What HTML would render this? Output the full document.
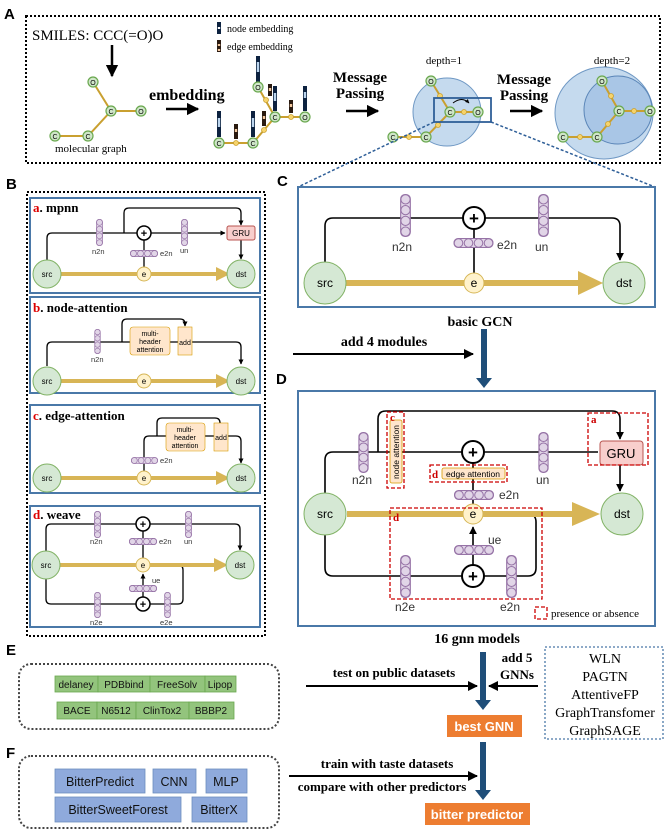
<!DOCTYPE html>
<html><head><meta charset="utf-8"><style>
html,body{margin:0;padding:0;background:#fff;}
svg{display:block;}
.s{font-family:"Liberation Sans",sans-serif;}
.r{font-family:"Liberation Serif",serif;}
</style></head><body>
<svg width="668" height="832" viewBox="0 0 668 832" xmlns="http://www.w3.org/2000/svg">
<defs>
<symbol id="vb" viewBox="0 0 10 40"><rect x="0.5" y="0.5" width="9" height="39" rx="4" fill="#e1d5e7" stroke="#9673a6"/><circle cx="5" cy="5" r="4.3" fill="#e1d5e7" stroke="#9673a6"/><circle cx="5" cy="15" r="4.3" fill="#e1d5e7" stroke="#9673a6"/><circle cx="5" cy="25" r="4.3" fill="#e1d5e7" stroke="#9673a6"/><circle cx="5" cy="35" r="4.3" fill="#e1d5e7" stroke="#9673a6"/></symbol>
<symbol id="hb" viewBox="0 0 40 10"><rect x="0.5" y="0.5" width="39" height="9" rx="4" fill="#e1d5e7" stroke="#9673a6"/><circle cx="5" cy="5" r="4.3" fill="#e1d5e7" stroke="#9673a6"/><circle cx="15" cy="5" r="4.3" fill="#e1d5e7" stroke="#9673a6"/><circle cx="25" cy="5" r="4.3" fill="#e1d5e7" stroke="#9673a6"/><circle cx="35" cy="5" r="4.3" fill="#e1d5e7" stroke="#9673a6"/></symbol>
<marker id="ah" viewBox="0 0 10 10" refX="9" refY="5" markerWidth="5" markerHeight="5" orient="auto"><path d="M0,0 L10,5 L0,10 z" fill="#000"/></marker>
<marker id="ahs" viewBox="0 0 10 10" refX="9" refY="5" markerWidth="4" markerHeight="4" orient="auto"><path d="M0,0 L10,5 L0,10 z" fill="#000"/></marker>
</defs>

<!-- ===== A ===== -->
<text x="4" y="19" class="s" font-size="15" font-weight="bold">A</text>
<rect x="26" y="16" width="634" height="147" fill="none" stroke="#000" stroke-width="2" stroke-dasharray="2,2"/>
<text x="32" y="40" class="r" font-size="15">SMILES: CCC(=O)O</text>
<line x1="112" y1="45" x2="112" y2="76" stroke="#000" stroke-width="2.5" marker-end="url(#ah)"/>
<g stroke="#c9a030" stroke-width="2" fill="none">
<polyline points="93,82 111,111 141,111"/><polyline points="111,111 88,136 55,136"/>
</g>
<g fill="#cfe6c8" stroke="#6aa84f" stroke-width="1.2" class="s" font-size="8">
<circle cx="93" cy="82" r="5"/><circle cx="111" cy="111" r="5"/><circle cx="141" cy="111" r="5"/><circle cx="88" cy="136" r="5"/><circle cx="55" cy="136" r="5"/>
</g>
<g class="s" font-size="7" text-anchor="middle"><text x="93" y="85">O</text><text x="111" y="114">C</text><text x="141" y="114">O</text><text x="88" y="139">C</text><text x="55" y="139">C</text></g>
<text x="55" y="152" class="r" font-size="11">molecular graph</text>
<text x="149" y="100" class="r" font-size="16" font-weight="bold">embedding</text>
<line x1="166" y1="109" x2="198" y2="109" stroke="#000" stroke-width="2.5" marker-end="url(#ah)"/>
<!-- legend -->
<rect x="217" y="22" width="4" height="12" fill="#0d2240"/><rect x="217.8" y="27" width="2.4" height="2" fill="#fff"/>
<text x="227" y="32" class="r" font-size="10">node embedding</text>
<rect x="217" y="40" width="4" height="12" fill="#2a1a10"/><rect x="217.8" y="44" width="2.4" height="2" fill="#f3c9a0"/><rect x="217.8" y="49" width="2.4" height="2" fill="#f3c9a0"/>
<text x="227" y="50" class="r" font-size="10">edge embedding</text>
<!-- embedded graph -->
<g stroke="#c9a030" stroke-width="2" fill="none"><polyline points="219,143 253,143 275,117 305,117"/><line x1="275" y1="117" x2="258" y2="87"/></g>
<g fill="#f6d36b" stroke="#c9a030" stroke-width="0.8"><circle cx="236" cy="143" r="2.5"/><circle cx="264" cy="130" r="2.5"/><circle cx="266" cy="100" r="2.5"/><circle cx="291" cy="117" r="2.5"/></g>
<g fill="#0d2240">
<rect x="217" y="111" width="4" height="26"/><rect x="251" y="111" width="4" height="26"/><rect x="273" y="86" width="4" height="25"/><rect x="256" y="56" width="4" height="26"/><rect x="303" y="86" width="4" height="25"/>
</g>
<g fill="#bcd5ee"><rect x="217.8" y="118" width="2.4" height="9"/><rect x="251.8" y="118" width="2.4" height="9"/><rect x="273.8" y="93" width="2.4" height="8"/><rect x="256.8" y="62" width="2.4" height="10"/><rect x="303.8" y="92" width="2.4" height="6"/></g>
<g fill="#2a1a10"><rect x="234" y="124" width="4" height="15"/><rect x="262" y="111" width="4" height="15"/><rect x="268" y="84" width="4" height="12"/><rect x="289" y="100" width="4" height="13"/></g>
<g fill="#f3c9a0"><rect x="234.8" y="129" width="2.4" height="3"/><rect x="262.8" y="116" width="2.4" height="3"/><rect x="268.8" y="88" width="2.4" height="3"/><rect x="289.8" y="104" width="2.4" height="3"/></g>
<g fill="#cfe6c8" stroke="#6aa84f" stroke-width="1.2"><circle cx="219" cy="143" r="5"/><circle cx="253" cy="143" r="5"/><circle cx="275" cy="117" r="5"/><circle cx="258" cy="87" r="5"/><circle cx="305" cy="117" r="5"/></g>
<g class="s" font-size="7" text-anchor="middle"><text x="219" y="146">C</text><text x="253" y="146">C</text><text x="275" y="120">C</text><text x="258" y="90">O</text><text x="305" y="120">O</text></g>
<!-- message passing 1 -->
<text x="360" y="82" class="r" font-size="15" font-weight="bold" text-anchor="middle">Message</text>
<text x="360" y="98" class="r" font-size="15" font-weight="bold" text-anchor="middle">Passing</text>
<line x1="346" y1="111" x2="378" y2="111" stroke="#000" stroke-width="2.5" marker-end="url(#ah)"/>
<text x="444" y="64" class="r" font-size="11" text-anchor="middle">depth=1</text>
<circle cx="447" cy="112" r="34" fill="#c5daee" stroke="#6f98c4" stroke-width="1"/>
<g stroke="#c9a030" stroke-width="2" fill="none"><polyline points="431,81 450,112 478,112"/><polyline points="450,112 426,137 393,137"/></g>
<g fill="#f6d36b" stroke="#c9a030" stroke-width="0.8"><circle cx="440" cy="96" r="2.5"/><circle cx="464" cy="112" r="2.5"/><circle cx="438" cy="125" r="2.5"/><circle cx="409" cy="137" r="2.5"/></g>
<g fill="#cfe6c8" stroke="#6aa84f" stroke-width="1.2"><circle cx="431" cy="81" r="5"/><circle cx="450" cy="112" r="5"/><circle cx="478" cy="112" r="5"/><circle cx="426" cy="137" r="5"/><circle cx="393" cy="137" r="5"/></g>
<g class="s" font-size="7" text-anchor="middle"><text x="431" y="84">O</text><text x="450" y="115">C</text><text x="478" y="115">O</text><text x="426" y="140">C</text><text x="393" y="140">C</text></g>
<path d="M453,103 Q462,96 469,103" fill="none" stroke="#000" stroke-width="1" marker-end="url(#ahs)"/>
<rect x="434" y="98" width="57" height="24" fill="none" stroke="#2f5f98" stroke-width="1.8"/>
<line x1="434" y1="122" x2="298" y2="187" stroke="#2f5f98" stroke-width="1.5" stroke-dasharray="3,2"/>
<line x1="491" y1="122" x2="655" y2="187" stroke="#2f5f98" stroke-width="1.5" stroke-dasharray="3,2"/>
<!-- message passing 2 -->
<text x="524" y="84" class="r" font-size="15" font-weight="bold" text-anchor="middle">Message</text>
<text x="524" y="100" class="r" font-size="15" font-weight="bold" text-anchor="middle">Passing</text>
<line x1="510" y1="111" x2="542" y2="111" stroke="#000" stroke-width="2.5" marker-end="url(#ah)"/>
<text x="612" y="64" class="r" font-size="11" text-anchor="middle">depth=2</text>
<ellipse cx="604" cy="113" rx="49" ry="46" fill="#c5daee" stroke="#6f98c4"/>
<circle cx="618" cy="110" r="34" fill="#a9c6e6" stroke="#5b86b8"/>
<g stroke="#c9a030" stroke-width="2" fill="none"><polyline points="602,81 619,111 650,111"/><polyline points="619,111 597,137 563,137"/></g>
<g fill="#f6d36b" stroke="#c9a030" stroke-width="0.8"><circle cx="611" cy="96" r="2.5"/><circle cx="634" cy="111" r="2.5"/><circle cx="608" cy="124" r="2.5"/><circle cx="580" cy="137" r="2.5"/></g>
<g fill="#cfe6c8" stroke="#6aa84f" stroke-width="1.2"><circle cx="602" cy="81" r="5"/><circle cx="619" cy="111" r="5"/><circle cx="650" cy="111" r="5"/><circle cx="597" cy="137" r="5"/><circle cx="563" cy="137" r="5"/></g>
<g class="s" font-size="7" text-anchor="middle"><text x="602" y="84">O</text><text x="619" y="114">C</text><text x="650" y="114">O</text><text x="597" y="140">C</text><text x="563" y="140">C</text></g>

<!-- ===== B ===== -->
<text x="6" y="189" class="s" font-size="15" font-weight="bold">B</text>
<rect x="27" y="192" width="238" height="444" fill="none" stroke="#000" stroke-width="2" stroke-dasharray="2,2"/>
<!-- a -->
<rect x="30" y="198" width="230" height="95" fill="#fff" stroke="#4a78a8" stroke-width="2"/>
<text x="33" y="212" class="r" font-size="13" font-weight="bold"><tspan fill="#d00">a</tspan>. mpnn</text>
<path d="M47,260 V238 Q47,233 52,233 H225" fill="none" stroke="#000" stroke-width="1.3" marker-end="url(#ahs)"/>
<path d="M124,233 V213 Q124,208 129,208 H236 Q241,208 241,213 V225" fill="none" stroke="#000" stroke-width="1.3" marker-end="url(#ahs)"/>
<line x1="144" y1="233" x2="144" y2="268" stroke="#000" stroke-width="1.3"/>
<line x1="241" y1="240" x2="241" y2="259" stroke="#000" stroke-width="1.3" marker-end="url(#ahs)"/>
<rect x="227" y="226" width="28" height="14" rx="2" fill="#f8cecc" stroke="#b85450"/><text x="241" y="236" class="s" font-size="8" text-anchor="middle">GRU</text>
<circle cx="144" cy="233" r="7" fill="#fff" stroke="#000" stroke-width="1.5"/><text x="144" y="237" class="s" font-size="11" text-anchor="middle" font-weight="bold">+</text>
<use href="#vb" x="96" y="219" width="7" height="27"/><use href="#vb" x="181" y="219" width="7" height="27"/><use href="#hb" x="130" y="250" width="28" height="7"/>
<g class="s" font-size="7.5" fill="#333"><text x="92" y="254">n2n</text><text x="160" y="256">e2n</text><text x="180" y="253">un</text></g>
<line x1="58" y1="274" x2="220" y2="274" stroke="#d8b556" stroke-width="4"/><path d="M216,267 L230,274 L216,281 z" fill="#d8b556"/>
<circle cx="47" cy="274" r="14" fill="#d5e8d4" stroke="#82b366"/><circle cx="241" cy="274" r="14" fill="#d5e8d4" stroke="#82b366"/><circle cx="144" cy="274" r="7" fill="#fff2cc" stroke="#d6b656"/>
<g class="s" font-size="8" text-anchor="middle"><text x="47" y="277">src</text><text x="241" y="277">dst</text><text x="144" y="277">e</text></g>
<!-- b -->
<rect x="30" y="297" width="230" height="96" fill="#fff" stroke="#4a78a8" stroke-width="2"/>
<text x="33" y="312" class="r" font-size="13" font-weight="bold"><tspan fill="#d00">b</tspan>. node-attention</text>
<path d="M47,366 V347 Q47,342 52,342 H236 Q241,342 241,347 V364" fill="none" stroke="#000" stroke-width="1.3" marker-end="url(#ahs)"/>
<path d="M122,342 V324 Q122,319 127,319 H180 Q185,319 185,324 V326" fill="none" stroke="#000" stroke-width="1.3" marker-end="url(#ahs)"/>
<rect x="130" y="327" width="40" height="28" rx="3" fill="#ffe6cc" stroke="#d79b00" stroke-width="0.6"/>
<text x="150" y="336" class="s" font-size="7" text-anchor="middle">multi-</text><text x="150" y="344" class="s" font-size="7" text-anchor="middle">header</text><text x="150" y="352" class="s" font-size="7" text-anchor="middle">attention</text>
<rect x="178" y="327" width="14" height="28" fill="#ffe6cc" stroke="#d79b00" stroke-width="0.6"/><text x="185" y="345" class="s" font-size="7" text-anchor="middle">add</text>
<use href="#vb" x="94" y="329" width="7" height="25"/><text x="91" y="362" class="s" font-size="7.5" fill="#333">n2n</text>
<line x1="58" y1="381" x2="220" y2="381" stroke="#d8b556" stroke-width="4"/><path d="M216,374 L230,381 L216,388 z" fill="#d8b556"/>
<circle cx="47" cy="381" r="14" fill="#d5e8d4" stroke="#82b366"/><circle cx="241" cy="381" r="14" fill="#d5e8d4" stroke="#82b366"/><circle cx="144" cy="381" r="7" fill="#fff2cc" stroke="#d6b656"/>
<g class="s" font-size="8" text-anchor="middle"><text x="47" y="384">src</text><text x="241" y="384">dst</text><text x="144" y="384">e</text></g>
<!-- c -->
<rect x="30" y="405" width="230" height="88" fill="#fff" stroke="#4a78a8" stroke-width="2"/>
<text x="33" y="420" class="r" font-size="13" font-weight="bold"><tspan fill="#d00">c</tspan>. edge-attention</text>
<path d="M144,472 V441 Q144,436 149,436 H236 Q241,436 241,441 V463" fill="none" stroke="#000" stroke-width="1.3" marker-end="url(#ahs)"/>
<path d="M157,436 V423 Q157,418 162,418 H215 Q220,418 220,423 V422" fill="none" stroke="#000" stroke-width="1.3" marker-end="url(#ahs)"/>
<rect x="166" y="423" width="39" height="28" rx="3" fill="#ffe6cc" stroke="#d79b00" stroke-width="0.6"/>
<text x="185" y="432" class="s" font-size="7" text-anchor="middle">multi-</text><text x="185" y="440" class="s" font-size="7" text-anchor="middle">header</text><text x="185" y="448" class="s" font-size="7" text-anchor="middle">attention</text>
<rect x="214" y="423" width="14" height="28" fill="#ffe6cc" stroke="#d79b00" stroke-width="0.6"/><text x="221" y="440" class="s" font-size="7" text-anchor="middle">add</text>
<use href="#hb" x="131" y="457" width="27" height="7"/><text x="160" y="463" class="s" font-size="7.5" fill="#333">e2n</text>
<line x1="58" y1="478" x2="220" y2="478" stroke="#d8b556" stroke-width="4"/><path d="M216,471 L230,478 L216,485 z" fill="#d8b556"/>
<circle cx="47" cy="478" r="14" fill="#d5e8d4" stroke="#82b366"/><circle cx="241" cy="478" r="14" fill="#d5e8d4" stroke="#82b366"/><circle cx="144" cy="478" r="7" fill="#fff2cc" stroke="#d6b656"/>
<g class="s" font-size="8" text-anchor="middle"><text x="47" y="481">src</text><text x="241" y="481">dst</text><text x="144" y="481">e</text></g>
<!-- d -->
<rect x="30" y="506" width="230" height="121" fill="#fff" stroke="#4a78a8" stroke-width="2"/>
<text x="33" y="519" class="r" font-size="13" font-weight="bold"><tspan fill="#d00">d</tspan>. weave</text>
<path d="M46,551 V529 Q46,524 51,524 H235 Q240,524 240,529 V550" fill="none" stroke="#000" stroke-width="1.3" marker-end="url(#ahs)"/>
<line x1="143" y1="524" x2="143" y2="558" stroke="#000" stroke-width="1.3"/>
<path d="M150,565 H178 Q183,565 183,570 V599 Q183,604 178,604 H51 Q46,604 46,599 V579" fill="none" stroke="#000" stroke-width="1.3"/>
<line x1="143" y1="597" x2="143" y2="574" stroke="#000" stroke-width="1.3" marker-end="url(#ahs)"/>
<circle cx="143" cy="524" r="7" fill="#fff" stroke="#000" stroke-width="1.5"/><text x="143" y="528" class="s" font-size="11" text-anchor="middle" font-weight="bold">+</text>
<circle cx="143" cy="604" r="7" fill="#fff" stroke="#000" stroke-width="1.5"/><text x="143" y="608" class="s" font-size="11" text-anchor="middle" font-weight="bold">+</text>
<use href="#vb" x="94" y="511" width="7" height="27"/><use href="#vb" x="185" y="511" width="7" height="27"/><use href="#hb" x="129" y="538" width="28" height="7"/>
<use href="#hb" x="129" y="585" width="28" height="7"/><use href="#vb" x="94" y="592" width="7" height="26"/><use href="#vb" x="164" y="592" width="7" height="26"/>
<g class="s" font-size="7.5" fill="#333"><text x="90" y="544">n2n</text><text x="159" y="544">e2n</text><text x="184" y="544">un</text><text x="152" y="583">ue</text><text x="90" y="625">n2e</text><text x="160" y="625">e2e</text></g>
<line x1="58" y1="565" x2="218" y2="565" stroke="#d8b556" stroke-width="4"/><path d="M214,558 L228,565 L214,572 z" fill="#d8b556"/>
<circle cx="46" cy="565" r="14" fill="#d5e8d4" stroke="#82b366"/><circle cx="240" cy="565" r="14" fill="#d5e8d4" stroke="#82b366"/><circle cx="143" cy="565" r="7" fill="#fff2cc" stroke="#d6b656"/>
<g class="s" font-size="8" text-anchor="middle"><text x="46" y="568">src</text><text x="240" y="568">dst</text><text x="143" y="568">e</text></g>

<!-- ===== C ===== -->
<text x="277" y="186" class="s" font-size="15" font-weight="bold">C</text>
<rect x="298" y="187" width="357" height="120" fill="#fff" stroke="#4a78a8" stroke-width="2"/>
<path d="M325,262 V226 Q325,218 333,218 H612 Q620,218 620,226 V260" fill="none" stroke="#000" stroke-width="1.6" marker-end="url(#ah)"/>
<line x1="474" y1="218" x2="474" y2="273" stroke="#000" stroke-width="1.6"/>
<circle cx="474" cy="218" r="11" fill="#fff" stroke="#000" stroke-width="2"/><text x="474" y="224" class="s" font-size="17" text-anchor="middle" font-weight="bold">+</text>
<use href="#vb" x="400" y="194" width="11" height="43"/><use href="#vb" x="538" y="194" width="11" height="43"/><use href="#hb" x="453" y="238" width="41" height="10"/>
<g class="s" font-size="12" fill="#333"><text x="392" y="251">n2n</text><text x="497" y="249">e2n</text><text x="535" y="251">un</text></g>
<line x1="345" y1="283" x2="584" y2="283" stroke="#d8b556" stroke-width="6"/><path d="M578,271 L603,283 L578,295 z" fill="#d8b556"/>
<circle cx="325" cy="283" r="21" fill="#d5e8d4" stroke="#82b366"/><circle cx="624" cy="283" r="21" fill="#d5e8d4" stroke="#82b366"/><circle cx="474" cy="283" r="10" fill="#fff2cc" stroke="#d6b656"/>
<g class="s" font-size="12" text-anchor="middle"><text x="325" y="287">src</text><text x="624" y="287">dst</text><text x="474" y="287">e</text></g>
<text x="480" y="326" class="r" font-size="14" font-weight="bold" text-anchor="middle">basic GCN</text>
<text x="384" y="346" class="r" font-size="14" font-weight="bold" text-anchor="middle">add 4 modules</text>
<line x1="293" y1="354" x2="473" y2="354" stroke="#000" stroke-width="2" marker-end="url(#ah)"/>
<rect x="481" y="329" width="6" height="50" fill="#1f4e79"/><path d="M476,378 L492,378 L484,388 z" fill="#1f4e79"/>

<!-- ===== D ===== -->
<text x="276" y="384" class="s" font-size="15" font-weight="bold">D</text>
<rect x="298" y="391" width="357" height="235" fill="#fff" stroke="#4a78a8" stroke-width="2"/>
<path d="M325,493 V460 Q325,452 333,452 H598" fill="none" stroke="#000" stroke-width="1.6"/>
<path d="M378,452 V419 Q378,411 386,411 H612 Q620,411 620,419 V439" fill="none" stroke="#000" stroke-width="1.6" marker-end="url(#ah)"/>
<line x1="620" y1="465" x2="620" y2="491" stroke="#000" stroke-width="1.6" marker-end="url(#ah)"/>
<line x1="473" y1="452" x2="473" y2="504" stroke="#000" stroke-width="1.6"/>
<path d="M483,514 H528 Q536,514 536,522 V568 Q536,576 528,576 H333 Q325,576 325,568 V535" fill="none" stroke="#000" stroke-width="1.6"/>
<line x1="473" y1="565" x2="473" y2="527" stroke="#000" stroke-width="1.6" marker-end="url(#ah)"/>
<rect x="600" y="441" width="43" height="24" rx="3" fill="#f8cecc" stroke="#b85450"/><text x="621" y="458" class="s" font-size="13" text-anchor="middle">GRU</text>
<circle cx="473" cy="452" r="11" fill="#fff" stroke="#000" stroke-width="2"/><text x="473" y="458" class="s" font-size="17" text-anchor="middle" font-weight="bold">+</text>
<circle cx="473" cy="576" r="11" fill="#fff" stroke="#000" stroke-width="2"/><text x="473" y="582" class="s" font-size="17" text-anchor="middle" font-weight="bold">+</text>
<use href="#vb" x="358" y="432" width="11" height="41"/><use href="#vb" x="538" y="432" width="11" height="41"/>
<use href="#hb" x="453" y="490" width="42" height="10"/><use href="#hb" x="453" y="545" width="42" height="10"/>
<use href="#vb" x="400" y="555" width="11" height="43"/><use href="#vb" x="506" y="555" width="11" height="43"/>
<rect x="390" y="420" width="12" height="63" rx="2" fill="#ffe6cc" stroke="#d79b00" stroke-width="0.8"/>
<text transform="translate(399,452) rotate(-90)" class="s" font-size="8.5" text-anchor="middle">node attention</text>
<rect x="442" y="468" width="63" height="11" rx="2" fill="#ffe6cc" stroke="#d79b00" stroke-width="0.8"/>
<text x="473" y="477" class="s" font-size="8.5" text-anchor="middle">edge attention</text>
<g class="s" font-size="12" fill="#333"><text x="352" y="484">n2n</text><text x="536" y="484">un</text><text x="499" y="499">e2n</text><text x="488" y="544">ue</text><text x="395" y="611">n2e</text><text x="500" y="611">e2n</text></g>
<line x1="347" y1="514" x2="575" y2="514" stroke="#d8b556" stroke-width="6"/><path d="M572,502 L600,514 L572,526 z" fill="#d8b556"/>
<circle cx="325" cy="514" r="21" fill="#d5e8d4" stroke="#82b366"/><circle cx="622" cy="514" r="21" fill="#d5e8d4" stroke="#82b366"/><circle cx="473" cy="514" r="10" fill="#fff2cc" stroke="#d6b656"/>
<g class="s" font-size="12" text-anchor="middle"><text x="325" y="518">src</text><text x="622" y="518">dst</text><text x="473" y="518">e</text></g>
<g fill="none" stroke="#c00" stroke-width="1.3" stroke-dasharray="4,2">
<rect x="387" y="412" width="17" height="76"/><rect x="430" y="465" width="77" height="17"/><rect x="588" y="413" width="60" height="52"/><rect x="390" y="508" width="152" height="91"/><rect x="535" y="607" width="12" height="12"/>
</g>
<g class="r" font-size="11" font-weight="bold" fill="#c00"><text x="390" y="421">c</text><text x="432" y="478">d</text><text x="591" y="423">a</text><text x="393" y="521">d</text></g>
<text x="551" y="617" class="r" font-size="11">presence or absence</text>
<text x="477" y="643" class="r" font-size="14" font-weight="bold" text-anchor="middle">16 gnn models</text>

<!-- ===== E ===== -->
<text x="6" y="655" class="s" font-size="15" font-weight="bold">E</text>
<rect x="19" y="664" width="260" height="65" rx="12" fill="none" stroke="#444" stroke-width="2" stroke-dasharray="2,2"/>
<g fill="#93c47d" stroke="#6aa84f" stroke-width="0.8">
<rect x="55" y="676" width="43" height="16"/><rect x="98" y="676" width="52" height="16"/><rect x="150" y="676" width="55" height="16"/><rect x="205" y="676" width="31" height="16"/>
<rect x="57" y="702" width="40" height="17"/><rect x="97" y="702" width="39" height="17"/><rect x="136" y="702" width="53" height="17"/><rect x="189" y="702" width="45" height="17"/>
</g>
<g class="s" font-size="10" text-anchor="middle" fill="#111">
<text x="76" y="688">delaney</text><text x="124" y="688">PDBbind</text><text x="177" y="688">FreeSolv</text><text x="220" y="688">Lipop</text>
<text x="77" y="714">BACE</text><text x="116" y="714">N6512</text><text x="162" y="714">ClinTox2</text><text x="211" y="714">BBBP2</text>
</g>
<text x="394" y="677" class="r" font-size="13" font-weight="bold" text-anchor="middle">test on public datasets</text>
<line x1="306" y1="686" x2="477" y2="686" stroke="#000" stroke-width="2" marker-end="url(#ah)"/>
<rect x="480" y="652" width="6" height="50" fill="#1f4e79"/><path d="M475,700 L491,700 L483,710 z" fill="#1f4e79"/>
<text x="517" y="662" class="r" font-size="13" font-weight="bold" text-anchor="middle">add 5</text>
<text x="517" y="679" class="r" font-size="13" font-weight="bold" text-anchor="middle">GNNs</text>
<line x1="538" y1="686" x2="489" y2="686" stroke="#000" stroke-width="2" marker-end="url(#ah)"/>
<rect x="545" y="647" width="118" height="92" fill="none" stroke="#4a78a8" stroke-width="1.3" stroke-dasharray="2,2"/>
<g class="r" font-size="14" text-anchor="middle"><text x="605" y="663">WLN</text><text x="605" y="681">PAGTN</text><text x="605" y="699">AttentiveFP</text><text x="605" y="717">GraphTransfomer</text><text x="605" y="735">GraphSAGE</text></g>
<rect x="447" y="715" width="75" height="22" fill="#ed7d31"/><text x="484" y="731" class="s" font-size="13" font-weight="bold" fill="#fff" text-anchor="middle">best GNN</text>

<!-- ===== F ===== -->
<text x="6" y="758" class="s" font-size="15" font-weight="bold">F</text>
<rect x="19" y="756" width="260" height="72" rx="12" fill="none" stroke="#444" stroke-width="2" stroke-dasharray="2,2"/>
<g fill="#8faadc" stroke="#6c8ebf" stroke-width="0.8">
<rect x="55" y="769" width="90" height="24"/><rect x="153" y="769" width="43" height="24"/><rect x="206" y="769" width="41" height="24"/>
<rect x="55" y="797" width="126" height="25"/><rect x="192" y="797" width="55" height="25"/>
</g>
<g class="s" font-size="12.5" text-anchor="middle" fill="#111">
<text x="100" y="786">BitterPredict</text><text x="174" y="786">CNN</text><text x="226" y="786">MLP</text>
<text x="118" y="814">BitterSweetForest</text><text x="219" y="814">BitterX</text>
</g>
<text x="387" y="768" class="r" font-size="13" font-weight="bold" text-anchor="middle">train with taste datasets</text>
<line x1="289" y1="776" x2="477" y2="776" stroke="#000" stroke-width="2" marker-end="url(#ah)"/>
<text x="382" y="791" class="r" font-size="13" font-weight="bold" text-anchor="middle">compare with other predictors</text>
<rect x="480" y="742" width="6" height="50" fill="#1f4e79"/><path d="M475,790 L491,790 L483,800 z" fill="#1f4e79"/>
<rect x="425" y="803" width="105" height="22" fill="#ed7d31"/><text x="477" y="819" class="s" font-size="13" font-weight="bold" fill="#fff" text-anchor="middle">bitter predictor</text>
</svg>
</body></html>
